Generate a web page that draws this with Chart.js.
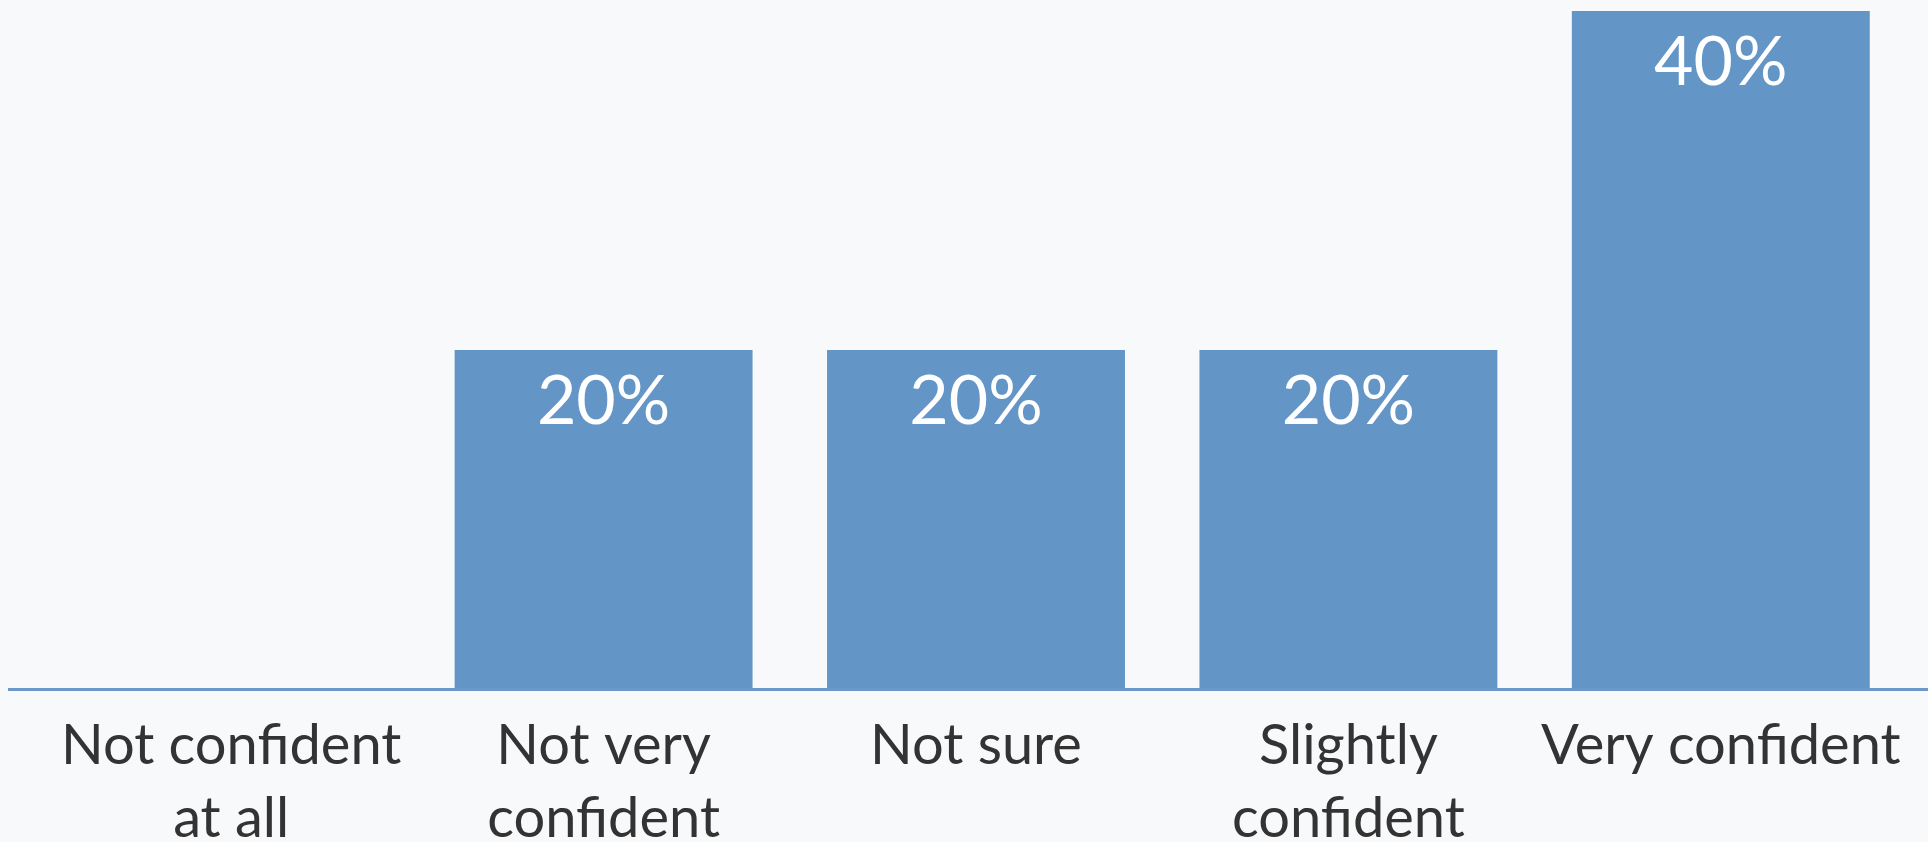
<!DOCTYPE html>
<html>
<head>
<meta charset="utf-8">
<script src="https://cdn.jsdelivr.net/npm/chart.js@4/dist/chart.umd.min.js"></script>
<style>
  html,body{margin:0;padding:0;background:#f8f9fb;}
  #wrap{width:1928px;height:842px;position:relative;}
</style>
</head>
<body>
<div id="wrap"><canvas id="chart"></canvas></div>
<script>
var categories=[['Not confident','at all'],['Not very','confident'],'Not sure',['Slightly','confident'],'Very confident'];
var values=[0,20,20,20,40];
var valueLabels=['0%','20%','20%','20%','40%'];

// white percent labels inside the top of each bar
var barLabels={
  id:'barLabels',
  afterDatasetsDraw:function(chart){
    var ctx=chart.ctx;
    var meta=chart.getDatasetMeta(0);
    ctx.save();
    ctx.fillStyle='#ffffff';
    ctx.font='68px Lato';
    ctx.textAlign='center';
    ctx.textBaseline='middle';
    meta.data.forEach(function(bar,i){
      if(!values[i]) return;
      ctx.fillText(valueLabels[i],bar.x,bar.y+52);
    });
    ctx.restore();
  }
};

// baseline running across the whole width
var baseLine={
  id:'baseLine',
  afterDatasetsDraw:function(chart){
    var ctx=chart.ctx;
    var y=chart.scales.y.getPixelForValue(0);
    ctx.save();
    ctx.strokeStyle='#6a98c8';
    ctx.lineWidth=3;
    ctx.beginPath();
    ctx.moveTo(8,y+0.5);
    ctx.lineTo(chart.width,y+0.5);
    ctx.stroke();
    ctx.restore();
  }
};

var ctx=document.getElementById('chart').getContext('2d');
var mychart=new Chart(ctx,{
  type:'bar',
  data:{
    labels:categories,
    datasets:[{
      data:values,
      backgroundColor:'#6395c6',
      borderWidth:0,
      barPercentage:0.8,
      categoryPercentage:1
    }]
  },
  options:{
    responsive:true,
    maintainAspectRatio:false,
    animation:false,
    layout:{padding:{left:45,right:21,top:11,bottom:0}},
    plugins:{legend:{display:false},tooltip:{enabled:false}},
    scales:{
      x:{
        grid:{display:false,drawTicks:false},
        border:{display:false},
        ticks:{
          color:'#333333',
          font:{family:'Lato',size:56,lineHeight:1.3},
          padding:21,
          maxRotation:0,
          autoSkip:false
        },
        afterFit:function(scale){scale.height=153;}
      },
      y:{
        display:false,
        min:0,
        max:40
      }
    }
  },
  plugins:[baseLine,barLabels]
});
</script>
</body>
</html>
